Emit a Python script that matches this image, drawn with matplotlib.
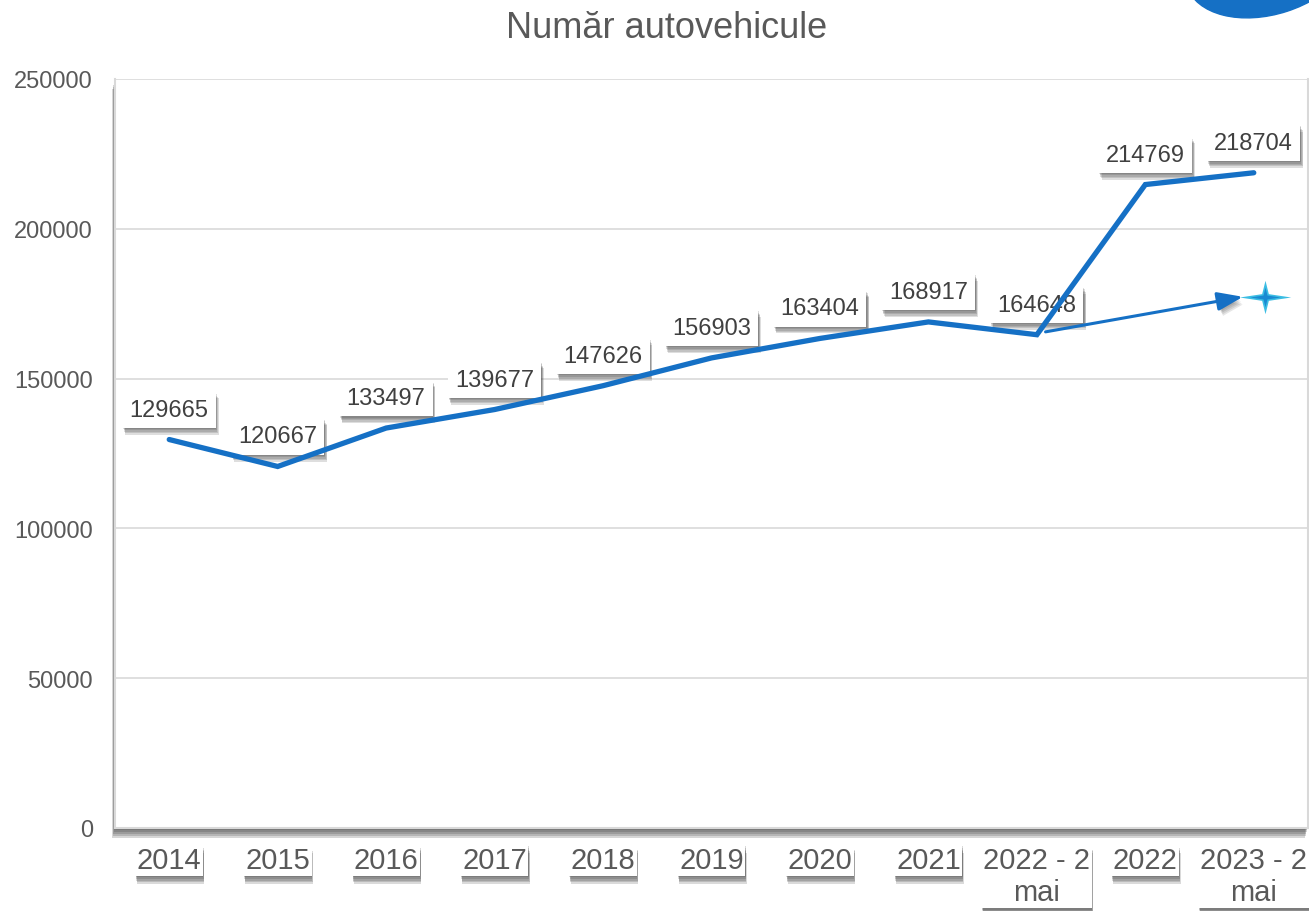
import matplotlib
matplotlib.use("Agg")
import matplotlib.pyplot as plt
import matplotlib.patheffects as pe
from matplotlib.patches import Ellipse
from matplotlib.path import Path
from matplotlib.transforms import IdentityTransform
import numpy as np

plt.rcParams['font.family'] = ['Liberation Sans', 'DejaVu Sans']

# date
categories = ['2014', '2015', '2016', '2017', '2018', '2019', '2020', '2021',
              '2022 - 2\nmai', '2022', '2023 - 2\nmai']
values = [129665, 120667, 133497, 139677, 147626, 156903, 163404, 168917,
          164648, 214769, 218704]
trend_values = [165600, 177300]   # sageata subtire 2022 - 2 mai -> 2023 - 2 mai
yticks = [0, 50000, 100000, 150000, 200000, 250000]

blue = '#1570C5'
text_col = '#404040'
axis_col = '#595959'


def shadow(dx, dy, alpha=0.18, layers=3, color='#555555'):
    fx = []
    for i in range(layers):
        k = (i + 1) / layers
        fx.append(pe.SimplePatchShadow(offset=(dx * k, dy * k), shadow_rgbFace=color, alpha=alpha))
    fx.append(pe.Normal())
    return fx


fig = plt.figure(figsize=(13.09, 9.12), dpi=100)
ax = fig.add_axes([115 / 1309, 1 - 829 / 912, 1193 / 1309, (829 - 80) / 912])

x = np.arange(len(categories))
ax.set_xlim(-0.5, len(categories) - 0.5)
ax.set_ylim(0, 250000)

# fundalul zonei de grafic cu umbra
ax.patch.set_facecolor('white')
ax.patch.set_path_effects(shadow(-2, -7, alpha=0.2, layers=5, color='#333333'))

ax.set_yticks(yticks)
ax.set_yticklabels([str(v) for v in yticks])
ax.grid(axis='y', color='#D9D9D9', lw=1.2)
ax.set_axisbelow(True)
ax.spines['top'].set_visible(False)
for s in ['left', 'right', 'bottom']:
    ax.spines[s].set_color('#D9D9D9')
    ax.spines[s].set_linewidth(1.5)
ax.tick_params(axis='both', length=0)
ax.tick_params(axis='y', labelsize=17, labelcolor=axis_col, pad=16)
ax.tick_params(axis='x', labelsize=21, labelcolor=axis_col, pad=13)

ax.set_xticks(x)
ax.set_xticklabels(categories, va='top')
for lbl in ax.get_xticklabels():
    lbl.set_bbox(dict(boxstyle='square,pad=0.05', fc='white', ec='none'))
    lbl.get_bbox_patch().set_path_effects(shadow(1, -6, alpha=0.18, layers=5, color='#333333'))

# etichete de date
for xi, v in zip(x, values):
    t = ax.annotate(str(v), (xi, v), xytext=(0, 30), textcoords='offset pixels',
                    ha='center', va='center', fontsize=17, color=text_col, zorder=3,
                    bbox=dict(boxstyle='square,pad=0.3', fc='white', ec='none'))
    t.get_bbox_patch().set_path_effects(shadow(2, -5, alpha=0.16, layers=5, color='#333333'))

# linia principala
ax.plot(x, values, color=blue, lw=3.8, solid_capstyle='round', solid_joinstyle='miter', zorder=4)

# sageata de tendinta
arr = ax.annotate('', xy=(len(categories) - 1 - 0.1, trend_values[1]),
                  xytext=(8 + 0.08, trend_values[0]),
                  arrowprops=dict(arrowstyle='-|>,head_length=1.1,head_width=0.4', color=blue,
                                  lw=2.2, mutation_scale=14, shrinkA=0, shrinkB=0),
                  zorder=4)
arr.arrow_patch.set_path_effects(shadow(3, -5, alpha=0.12, layers=5, color='#333333'))

# steluta
sx, sy, c = 1.0, 0.65, 0.13
star_path = Path([(sx, 0), (c, c), (0, sy), (-c, c), (-sx, 0),
                  (-c, -c), (0, -sy), (c, -c), (sx, 0)], closed=True)
ax.plot([len(categories) - 1 + 0.1], [trend_values[1]], marker=star_path, ms=37,
        color='#3BBDE3', mec='none', zorder=5)
ax.plot([len(categories) - 1 + 0.1], [trend_values[1]], marker=star_path, ms=22,
        color='#1A8AD2', mec='none', zorder=6)

# titlu
fig.text(667 / 1309, 1 - 29 / 912, 'Număr autovehicule', ha='center', va='center',
         fontsize=26, color=axis_col)

# forma albastra din colt
blob = Ellipse((1270, 912 + 40), 175, 110, angle=18, color=blue,
               transform=IdentityTransform(), zorder=10)
fig.add_artist(blob)

fig.savefig('out.png', dpi=100)
